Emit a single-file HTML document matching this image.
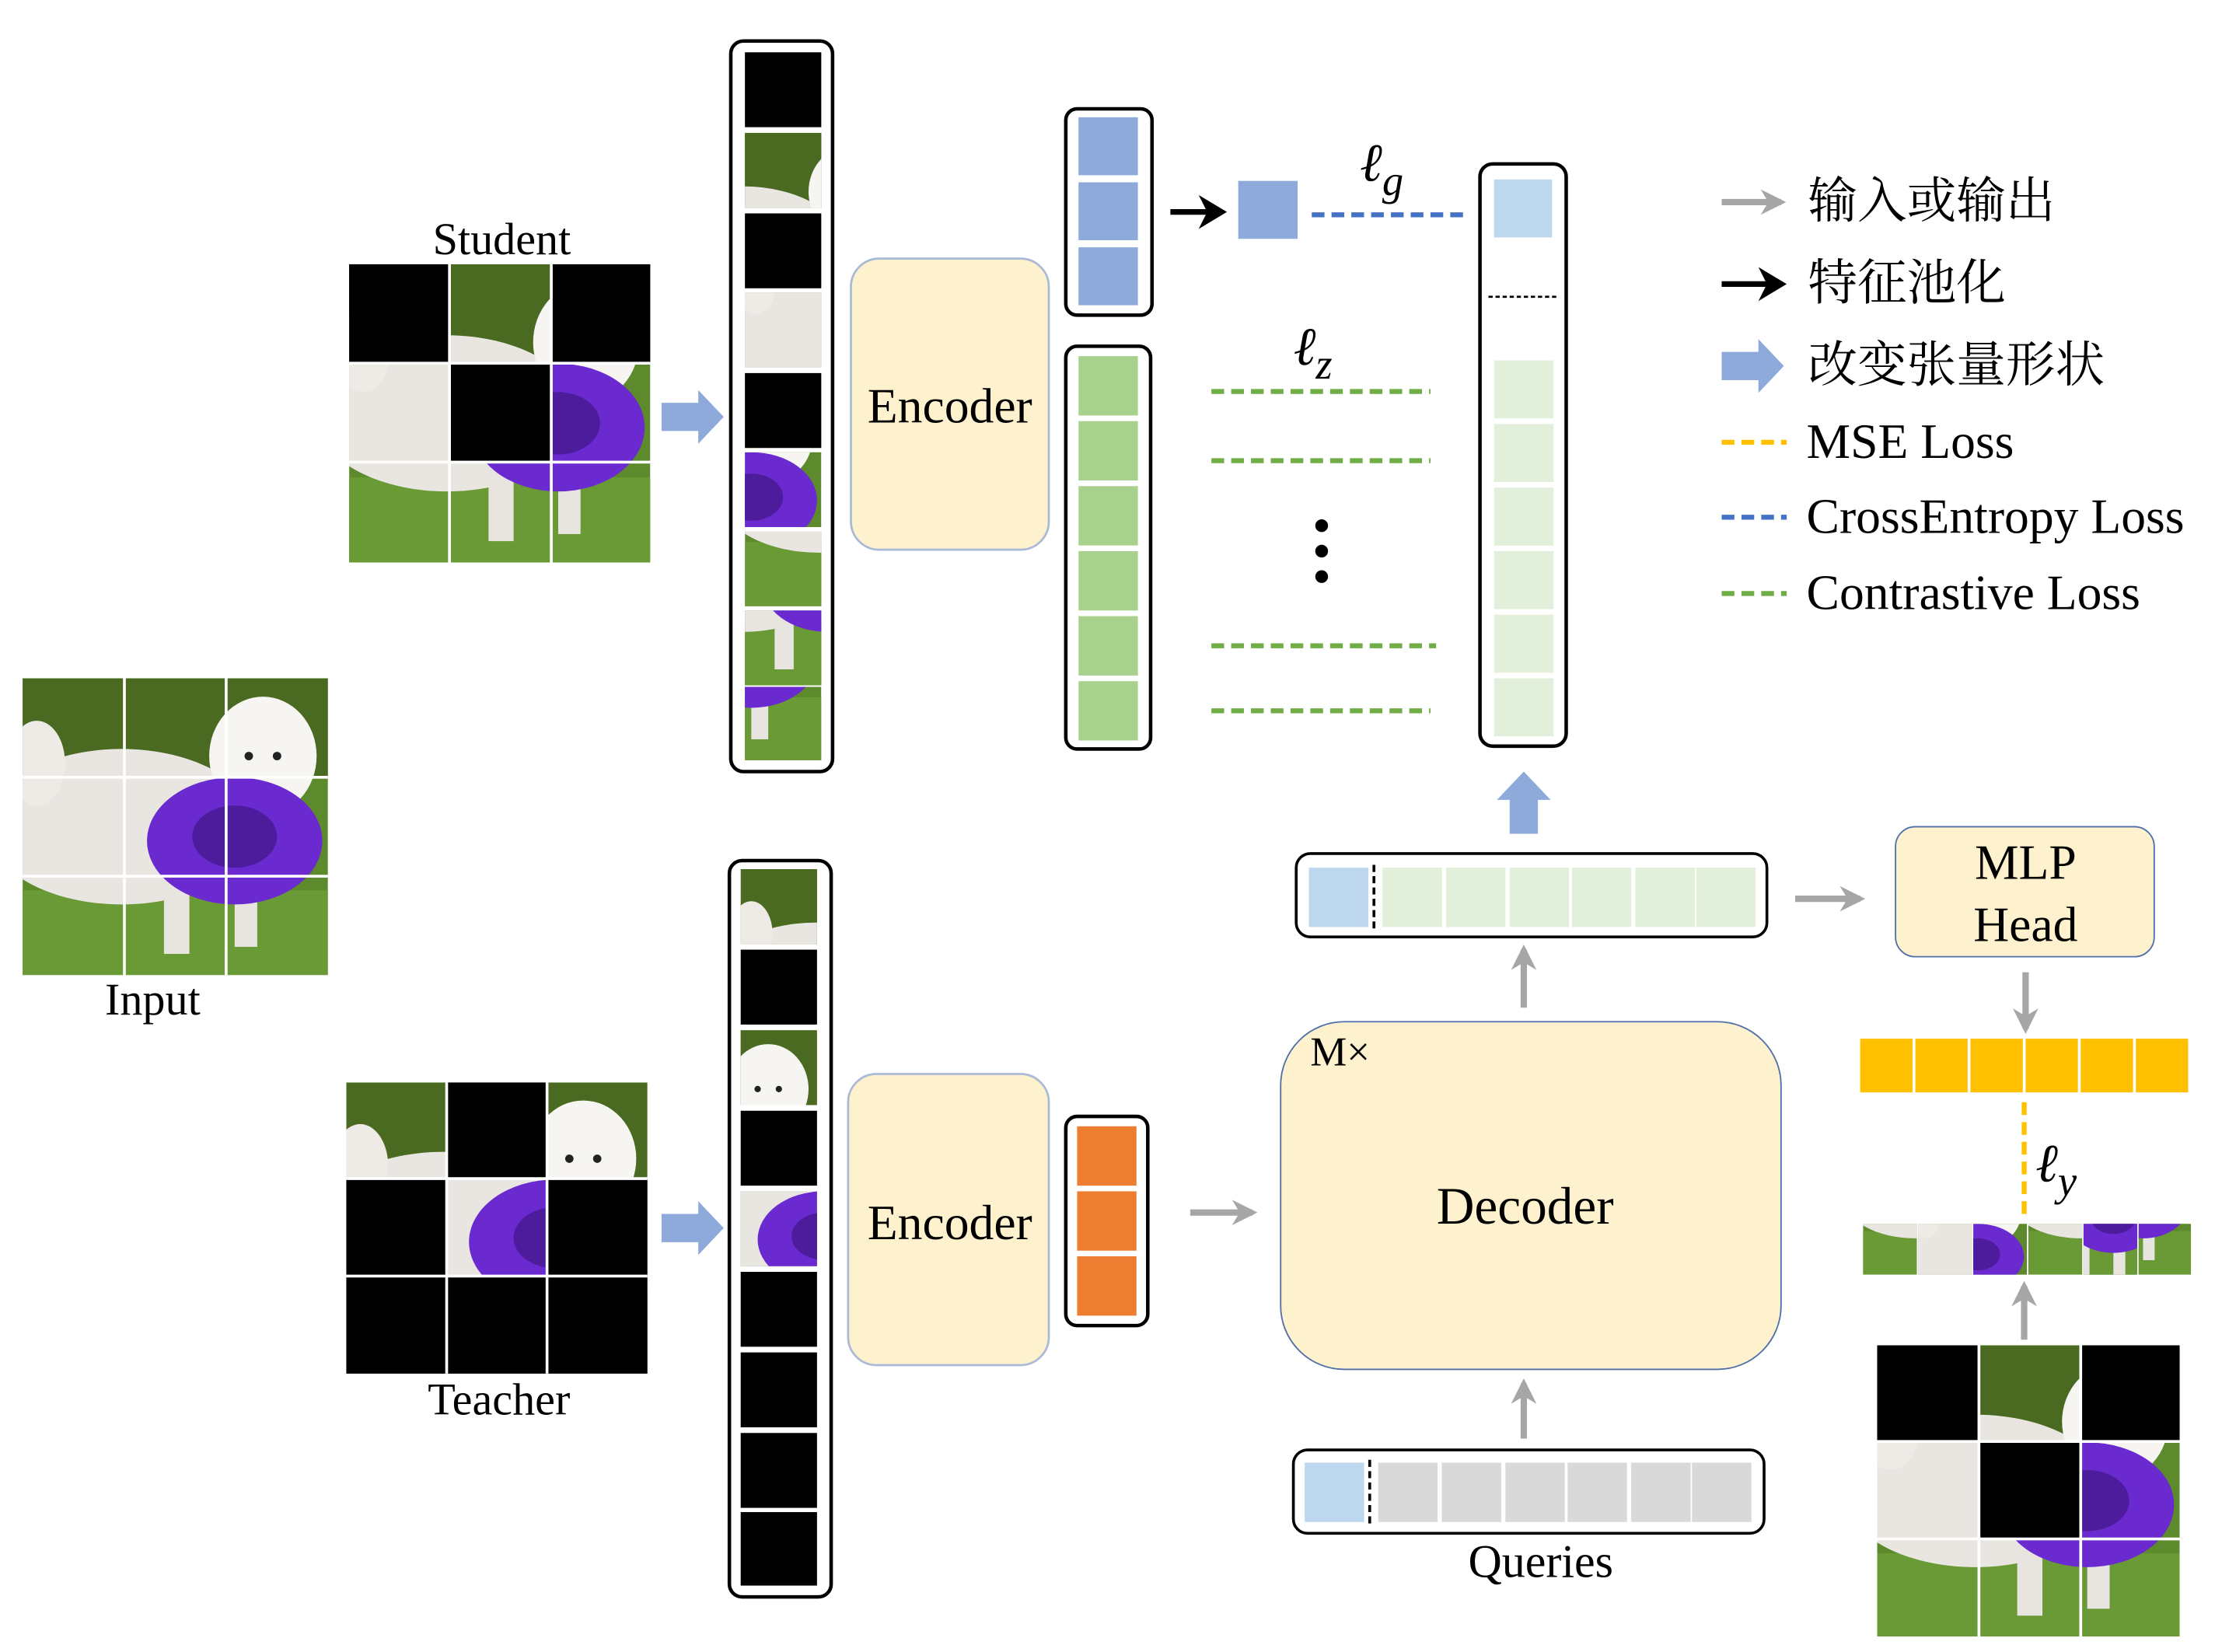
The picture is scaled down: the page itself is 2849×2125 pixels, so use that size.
<!DOCTYPE html>
<html><head><meta charset="utf-8"><style>
html,body{margin:0;padding:0;background:#fff}
svg{display:block}
text{font-family:"Liberation Serif","Noto Serif CJK SC",serif;fill:#000}
</style></head><body>
<svg width="2849" height="2125" viewBox="0 0 1567 1169" preserveAspectRatio="none" xmlns="http://www.w3.org/2000/svg">
<defs>
<symbol id="photo" viewBox="0 0 216 210" preserveAspectRatio="none">
<rect x="0" y="0" width="216" height="210" fill="#5c8a2c"/>
<rect x="0" y="0" width="216" height="70" fill="#4a6a22"/>
<rect x="0" y="150" width="216" height="60" fill="#6a9a36"/>
<ellipse cx="70" cy="105" rx="95" ry="55" fill="#e9e6e2"/>
<ellipse cx="10" cy="60" rx="20" ry="30" fill="#eeeae6"/>
<rect x="100" y="140" width="18" height="55" fill="#e8e4e0"/>
<rect x="150" y="140" width="16" height="50" fill="#e8e4e0"/>
<ellipse cx="170" cy="55" rx="38" ry="42" fill="#f7f5f2"/>
<circle cx="160" cy="55" r="3" fill="#222"/><circle cx="180" cy="55" r="3" fill="#222"/>
<ellipse cx="150" cy="115" rx="62" ry="45" fill="#6a2ad0"/>
<ellipse cx="150" cy="112" rx="30" ry="22" fill="#4c1c9c"/>
</symbol>
<marker id="ag" viewBox="0 0 10 10" refX="8" refY="5" markerWidth="4" markerHeight="4" orient="auto"><path d="M0,0 L10,5 L0,10 L3,5 z" fill="#a6a6a6"/></marker>
</defs>

<use href="#photo" x="16" y="480" width="216" height="210"/>
<g stroke="#fff" stroke-width="2"><line x1="88" y1="480" x2="88" y2="690"/><line x1="160" y1="480" x2="160" y2="690"/><line x1="16" y1="550" x2="232" y2="550"/><line x1="16" y1="620" x2="232" y2="620"/></g>
<text x="108" y="718" font-size="32" text-anchor="middle">Input</text>

<use href="#photo" x="247" y="187" width="213" height="211"/>
<g fill="#000"><rect x="247" y="187" width="71" height="70"/><rect x="390" y="187" width="70" height="70"/><rect x="318" y="257" width="72" height="70"/></g>
<g stroke="#fff" stroke-width="2"><line x1="318" y1="187" x2="318" y2="398"/><line x1="390" y1="187" x2="390" y2="398"/><line x1="247" y1="257" x2="460" y2="257"/><line x1="247" y1="327" x2="460" y2="327"/></g>
<text x="355" y="180" font-size="32" text-anchor="middle">Student</text>

<use href="#photo" x="245" y="766" width="213" height="206"/>
<g fill="#000"><rect x="316" y="766" width="71" height="68"/><rect x="245" y="834" width="71" height="69"/><rect x="387" y="834" width="71" height="69"/><rect x="245" y="903" width="213" height="69"/></g>
<g stroke="#fff" stroke-width="2"><line x1="316" y1="766" x2="316" y2="972"/><line x1="387" y1="766" x2="387" y2="972"/><line x1="245" y1="834" x2="458" y2="834"/><line x1="245" y1="903" x2="458" y2="903"/></g>
<text x="353" y="1001" font-size="32" text-anchor="middle">Teacher</text>

<g fill="#8eaadb">
<path d="M468,285 L494,285 L494,276 L512,295 L494,314 L494,305 L468,305 z"/>
<path d="M468,859 L494,859 L494,850 L512,869 L494,888 L494,879 L468,879 z"/>
<path d="M1068,590 L1068,566 L1059,566 L1078,546 L1097,566 L1088,566 L1088,590 z"/>
<path d="M1218,249 L1244,249 L1244,240 L1262,259 L1244,278 L1244,269 L1218,269 z"/>
</g>

<rect x="517" y="29" width="72" height="517" rx="9" fill="#fff" stroke="#000" stroke-width="2.5"/>
<g>
<rect x="527" y="37" width="54" height="53" fill="#000"/>
<svg x="527" y="94" width="54" height="53" viewBox="72 0 72 70" preserveAspectRatio="none"><use href="#photo" width="216" height="210"/></svg>
<rect x="527" y="151" width="54" height="53" fill="#000"/>
<svg x="527" y="207" width="54" height="53" viewBox="0 70 72 70" preserveAspectRatio="none"><use href="#photo" width="216" height="210"/></svg>
<rect x="527" y="264" width="54" height="53" fill="#000"/>
<svg x="527" y="320" width="54" height="53" viewBox="144 70 72 70" preserveAspectRatio="none"><use href="#photo" width="216" height="210"/></svg>
<svg x="527" y="376" width="54" height="53" viewBox="0 140 72 70" preserveAspectRatio="none"><use href="#photo" width="216" height="210"/></svg>
<svg x="527" y="432" width="54" height="53" viewBox="72 140 72 70" preserveAspectRatio="none"><use href="#photo" width="216" height="210"/></svg>
<svg x="527" y="486" width="54" height="52" viewBox="144 140 72 70" preserveAspectRatio="none"><use href="#photo" width="216" height="210"/></svg>
</g>

<rect x="516" y="609" width="72" height="521" rx="9" fill="#fff" stroke="#000" stroke-width="2.5"/>
<g>
<svg x="524" y="615" width="54" height="53" viewBox="0 0 72 70" preserveAspectRatio="none"><use href="#photo" width="216" height="210"/></svg>
<rect x="524" y="672" width="54" height="53" fill="#000"/>
<svg x="524" y="729" width="54" height="53" viewBox="144 0 72 70" preserveAspectRatio="none"><use href="#photo" width="216" height="210"/></svg>
<rect x="524" y="786" width="54" height="53" fill="#000"/>
<svg x="524" y="843" width="54" height="53" viewBox="72 70 72 70" preserveAspectRatio="none"><use href="#photo" width="216" height="210"/></svg>
<rect x="524" y="900" width="54" height="53" fill="#000"/>
<rect x="524" y="957" width="54" height="53" fill="#000"/>
<rect x="524" y="1014" width="54" height="53" fill="#000"/>
<rect x="524" y="1070" width="54" height="52" fill="#000"/>
</g>

<rect x="602" y="183" width="140" height="206" rx="20" fill="#fef1cd" stroke="#a9b9d6" stroke-width="1.5"/>
<text x="672" y="299" font-size="35" text-anchor="middle">Encoder</text>
<rect x="600" y="760" width="142" height="206" rx="20" fill="#fef1cd" stroke="#a9b9d6" stroke-width="1.5"/>
<text x="672" y="877" font-size="35" text-anchor="middle">Encoder</text>

<rect x="754" y="77" width="61" height="146" rx="8" fill="#fff" stroke="#000" stroke-width="2.5"/>
<g fill="#8eaadb"><rect x="763" y="83" width="42" height="41"/><rect x="763" y="129" width="42" height="41"/><rect x="763" y="175" width="42" height="41"/></g>
<rect x="754" y="245" width="60" height="285" rx="8" fill="#fff" stroke="#000" stroke-width="2.5"/>
<g fill="#a9d18e"><rect x="763" y="252" width="42" height="42"/><rect x="763" y="298" width="42" height="42"/><rect x="763" y="344" width="42" height="42"/><rect x="763" y="390" width="42" height="42"/><rect x="763" y="436" width="42" height="42"/><rect x="763" y="482" width="42" height="42"/></g>
<rect x="754" y="790" width="58" height="148" rx="8" fill="#fff" stroke="#000" stroke-width="2.5"/>
<g fill="#ed7d31"><rect x="762" y="797" width="42" height="42"/><rect x="762" y="843" width="42" height="42"/><rect x="762" y="889" width="42" height="42"/></g>

<line x1="828" y1="150" x2="856" y2="150" stroke="#000" stroke-width="4"/>
<path d="M848,138 L868,150 L848,162 L854,150 z" fill="#000"/>
<rect x="876" y="128" width="42" height="41" fill="#8eaadb"/>
<line x1="928" y1="152" x2="1038" y2="152" stroke="#4472c4" stroke-width="3.5" stroke-dasharray="9,5"/>
<text x="962" y="128" font-size="38" font-style="italic">ℓ<tspan font-size="30" dy="10">g</tspan></text>
<text x="915" y="258" font-size="38" font-style="italic">ℓ<tspan font-size="30" dy="10">z</tspan></text>
<g stroke="#70ad47" stroke-width="3.5" stroke-dasharray="9,5">
<line x1="857" y1="277" x2="1012" y2="277"/><line x1="857" y1="326" x2="1012" y2="326"/><line x1="857" y1="457" x2="1016" y2="457"/><line x1="857" y1="503" x2="1012" y2="503"/></g>
<g fill="#000"><circle cx="935" cy="372" r="4.5"/><circle cx="935" cy="390" r="4.5"/><circle cx="935" cy="408" r="4.5"/></g>

<rect x="1047" y="116" width="61" height="412" rx="9" fill="#fff" stroke="#000" stroke-width="2.5"/>
<rect x="1057" y="127" width="41" height="41" fill="#bdd7ee"/>
<line x1="1053" y1="210" x2="1101" y2="210" stroke="#000" stroke-width="1.5" stroke-dasharray="3,2"/>
<g fill="#e2efda"><rect x="1057" y="255" width="42" height="41"/><rect x="1057" y="300" width="42" height="41"/><rect x="1057" y="345" width="42" height="41"/><rect x="1057" y="390" width="42" height="41"/><rect x="1057" y="435" width="42" height="41"/><rect x="1057" y="480" width="42" height="41"/></g>

<rect x="917" y="604" width="333" height="59" rx="10" fill="#fff" stroke="#000" stroke-width="2"/>
<rect x="926" y="614" width="42" height="42" fill="#bdd7ee"/>
<line x1="972" y1="612" x2="972" y2="658" stroke="#000" stroke-width="2" stroke-dasharray="5,3"/>
<g fill="#e2efda"><rect x="978" y="614" width="42" height="42"/><rect x="1023" y="614" width="42" height="42"/><rect x="1068" y="614" width="42" height="42"/><rect x="1112" y="614" width="42" height="42"/><rect x="1157" y="614" width="42" height="42"/><rect x="1200" y="614" width="42" height="42"/></g>

<g stroke="#a6a6a6" stroke-width="4.5" marker-end="url(#ag)">
<line x1="1078" y1="713" x2="1078" y2="672"/>
<line x1="1078" y1="1018" x2="1078" y2="979"/>
<line x1="842" y1="858" x2="886" y2="858"/>
<line x1="1270" y1="636" x2="1316" y2="636"/>
<line x1="1433" y1="688" x2="1433" y2="728"/>
<line x1="1432" y1="948" x2="1432" y2="910"/>
<line x1="1218" y1="143" x2="1260" y2="143"/>
</g>

<rect x="906" y="723" width="354" height="246" rx="45" fill="#fef1cd" stroke="#4f6fa8" stroke-width="1"/>
<text x="927" y="754" font-size="29">M×</text>
<text x="1079" y="866" font-size="37" text-anchor="middle">Decoder</text>

<rect x="915" y="1026" width="333" height="59" rx="10" fill="#fff" stroke="#000" stroke-width="2"/>
<rect x="923" y="1035" width="42" height="42" fill="#bdd7ee"/>
<line x1="969" y1="1033" x2="969" y2="1079" stroke="#000" stroke-width="2" stroke-dasharray="5,3"/>
<g fill="#d9d9d9"><rect x="975" y="1035" width="42" height="42"/><rect x="1020" y="1035" width="42" height="42"/><rect x="1065" y="1035" width="42" height="42"/><rect x="1109" y="1035" width="42" height="42"/><rect x="1154" y="1035" width="42" height="42"/><rect x="1197" y="1035" width="42" height="42"/></g>
<text x="1090" y="1116" font-size="33" text-anchor="middle">Queries</text>

<rect x="1341" y="585" width="183" height="92" rx="14" fill="#fef1cd" stroke="#4f6fa8" stroke-width="1"/>
<text x="1433" y="622" font-size="35" text-anchor="middle">MLP</text>
<text x="1433" y="666" font-size="35" text-anchor="middle">Head</text>

<g fill="#ffc000"><rect x="1316" y="735" width="37" height="38"/><rect x="1355" y="735" width="37" height="38"/><rect x="1394" y="735" width="37" height="38"/><rect x="1433" y="735" width="37" height="38"/><rect x="1472" y="735" width="37" height="38"/><rect x="1511" y="735" width="37" height="38"/></g>
<line x1="1432" y1="780" x2="1432" y2="862" stroke="#ffc000" stroke-width="3.5" stroke-dasharray="9,5"/>
<text x="1440" y="836" font-size="38" font-style="italic">ℓ<tspan font-size="30" dy="10">y</tspan></text>

<svg x="1318" y="866" width="38" height="36" viewBox="0 140 72 70" preserveAspectRatio="none"><use href="#photo" width="216" height="210"/></svg>
<svg x="1357" y="866" width="38" height="36" viewBox="0 70 72 70" preserveAspectRatio="none"><use href="#photo" width="216" height="210"/></svg>
<svg x="1396" y="866" width="38" height="36" viewBox="144 70 72 70" preserveAspectRatio="none"><use href="#photo" width="216" height="210"/></svg>
<svg x="1435" y="866" width="38" height="36" viewBox="0 140 72 70" preserveAspectRatio="none"><use href="#photo" width="216" height="210"/></svg>
<svg x="1474" y="866" width="38" height="36" viewBox="110 120 72 70" preserveAspectRatio="none"><use href="#photo" width="216" height="210"/></svg>
<svg x="1513" y="866" width="37" height="36" viewBox="144 140 72 70" preserveAspectRatio="none"><use href="#photo" width="216" height="210"/></svg>

<use href="#photo" x="1328" y="952" width="214" height="206"/>
<g fill="#000"><rect x="1328" y="952" width="72" height="68"/><rect x="1472" y="952" width="70" height="68"/><rect x="1400" y="1020" width="72" height="69"/></g>
<g stroke="#fff" stroke-width="2"><line x1="1400" y1="952" x2="1400" y2="1158"/><line x1="1472" y1="952" x2="1472" y2="1158"/><line x1="1328" y1="1020" x2="1542" y2="1020"/><line x1="1328" y1="1089" x2="1542" y2="1089"/></g>

<line x1="1218" y1="201" x2="1252" y2="201" stroke="#000" stroke-width="4"/>
<path d="M1244,189 L1264,201 L1244,213 L1250,201 z" fill="#000"/>
<line x1="1218" y1="313" x2="1264" y2="313" stroke="#ffc000" stroke-width="3.5" stroke-dasharray="9,5"/>
<line x1="1218" y1="366" x2="1264" y2="366" stroke="#4472c4" stroke-width="3.5" stroke-dasharray="9,5"/>
<line x1="1218" y1="420" x2="1264" y2="420" stroke="#70ad47" stroke-width="3.5" stroke-dasharray="9,5"/>
<g font-size="35">
<text x="1279" y="154">输入或输出</text>
<text x="1279" y="212">特征池化</text>
<text x="1279" y="270">改变张量形状</text>
<text x="1278" y="324">MSE Loss</text>
<text x="1278" y="377">CrossEntropy Loss</text>
<text x="1278" y="431">Contrastive Loss</text>
</g>
</svg>
</body></html>
